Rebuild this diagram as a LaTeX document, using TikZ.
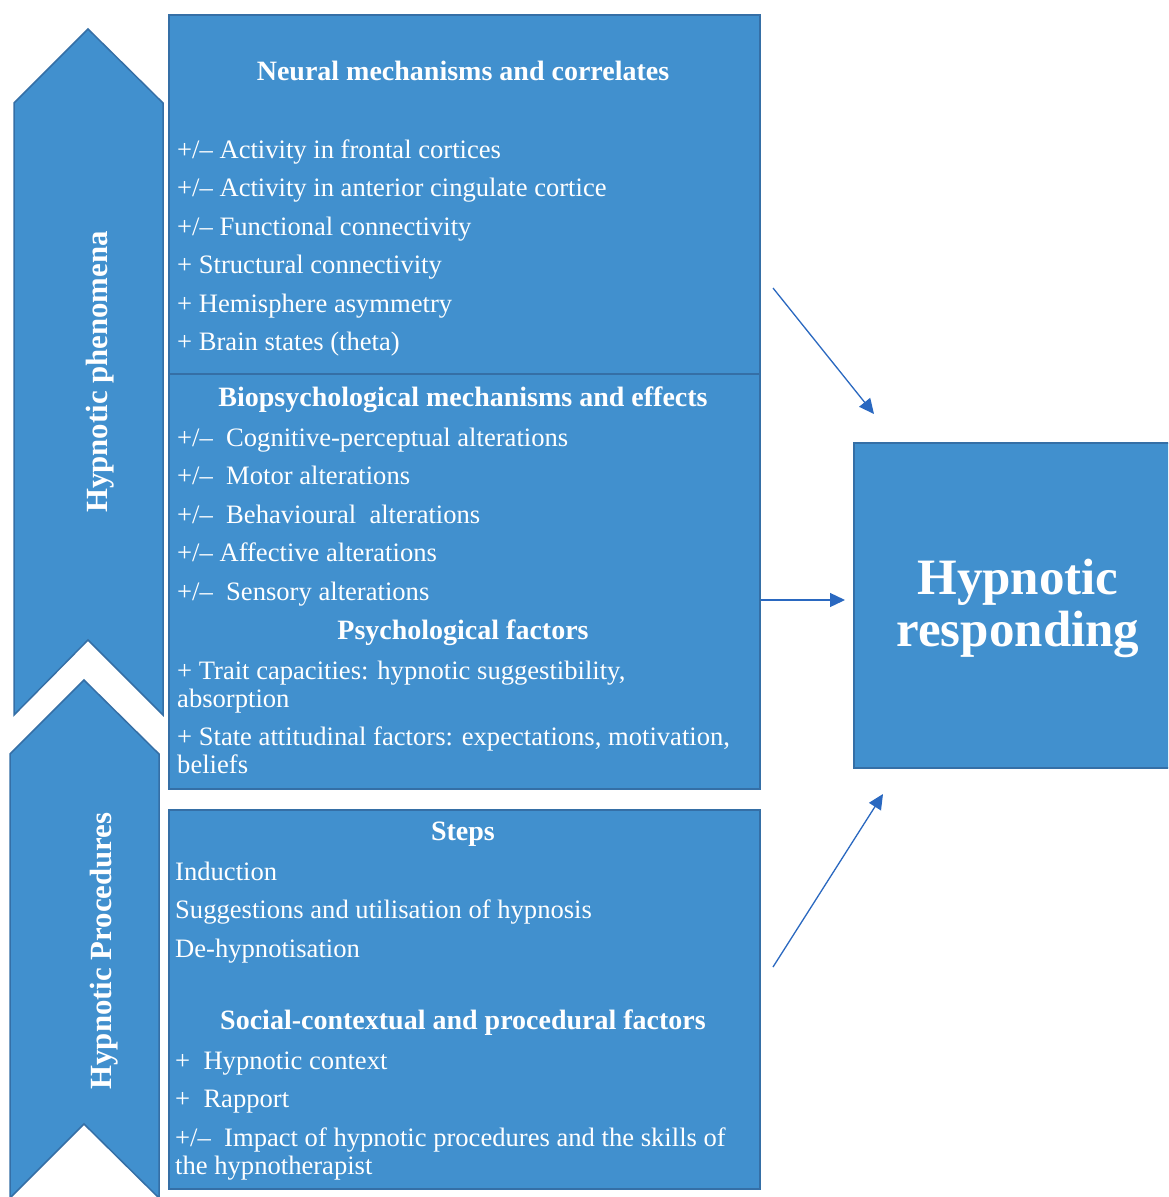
\documentclass[tikz,border=0pt]{standalone}
\usepackage{fontspec}
\setmainfont{Liberation Serif}
\usetikzlibrary{arrows.meta}
\definecolor{boxfill}{HTML}{4190CE}
\definecolor{boxline}{HTML}{356FA6}
\definecolor{arrowc}{HTML}{2A68C0}
\tikzset{
  panel/.style={draw=boxline, line width=1.5pt, fill=boxfill},
  txt/.style={anchor=base west, inner sep=0pt, text=white, font=\fontsize{26.6}{30}\selectfont},
  head/.style={anchor=base, inner sep=0pt, text=white, font=\fontsize{28}{32}\selectfont\bfseries},
  side/.style={inner sep=0pt, text=white, rotate=90, font=\fontsize{30.8}{34}\selectfont\bfseries},
  conn/.style={draw=arrowc, line width=1.3pt, -{Triangle[length=15pt,width=14pt]}}
}
\newcommand{\pmm}{+/--}
\begin{document}
\begin{tikzpicture}[x=1pt,y=-1pt]
\useasboundingbox (0,0) rectangle (1168,1197);
\clip (0,0) rectangle (1168,1197);
\fill[white] (0,0) rectangle (1168,1197);
% chevrons
\draw[panel] (14,103) -- (88,29) -- (163,103) -- (163,715) -- (88,640) -- (14,715) -- cycle;
\draw[panel] (10,754) -- (84,680) -- (159,754) -- (159,1198) -- (84,1124) -- (10,1198) -- cycle;
\node[side] (hp) at (100,372) {Hypnotic phenomena};
\node[side] (hproc) at (104,951) {Hypnotic Procedures};
% boxes
\node[panel, minimum width=591pt, minimum height=359pt, anchor=north west, inner sep=0pt] (box1) at (168,14) {};
\node[panel, minimum width=591pt, minimum height=415pt, anchor=north west, inner sep=0pt] (box2) at (168,373) {};
\node[panel, minimum width=591pt, minimum height=379pt, anchor=north west, inner sep=0pt] (box3) at (168,809) {};
\node[panel, minimum width=330pt, minimum height=325pt, anchor=north west, inner sep=0pt] (resp) at (853,442) {};
\node[inner sep=0pt, text=white, align=center, font=\fontsize{51}{52}\selectfont\bfseries] (resptxt) at (1018,608) {Hypnotic\\responding};
% box1 text
\node[head] (h1) at (463,80) {Neural mechanisms and correlates};
\node[txt] (l11) at (177,158) {\pmm\ Activity in frontal cortices};
\node[txt] (l12) at (177,196) {\pmm\ Activity in anterior cingulate cortice};
\node[txt] (l13) at (177,235) {\pmm\ Functional connectivity};
\node[txt] (l14) at (177,273) {+ Structural connectivity};
\node[txt] (l15) at (177,312) {+ Hemisphere asymmetry};
\node[txt] (l16) at (177,350) {+ Brain states (theta)};
% box2 text
\node[head] (h2) at (463,406) {Biopsychological mechanisms and effects};
\node[txt] (l21) at (177,446) {\pmm\ \ Cognitive-perceptual alterations};
\node[txt] (l22) at (177,484) {\pmm\ \ Motor alterations};
\node[txt] (l23) at (177,523) {\pmm\ \ Behavioural\ \ alterations};
\node[txt] (l24) at (177,561) {\pmm\ Affective alterations};
\node[txt] (l25) at (177,600) {\pmm\ \ Sensory alterations};
\node[head] (h3) at (463,639) {Psychological factors};
\node[txt] (l26) at (177,679) {+ Trait capacities: hypnotic suggestibility,};
\node[txt] (l27) at (177,707) {absorption};
\node[txt] (l28) at (177,745) {+ State attitudinal factors: expectations, motivation,};
\node[txt] (l29) at (177,773) {beliefs};
% box3 text
\node[head] (h4) at (463,840) {Steps};
\node[txt] (l31) at (175,880) {Induction};
\node[txt] (l32) at (175,918) {Suggestions and utilisation of hypnosis};
\node[txt] (l33) at (175,957) {De-hypnotisation};
\node[head] (h5) at (463,1029) {Social-contextual and procedural factors};
\node[txt] (l34) at (175,1069) {+\ \ Hypnotic context};
\node[txt] (l35) at (175,1107) {+\ \ Rapport};
\node[txt] (l36) at (175,1146) {\pmm\ \ Impact of hypnotic procedures and the skills of};
\node[txt] (l37) at (175,1174) {the hypnotherapist};
% arrows
\coordinate (a1s) at (773,288);
\coordinate (a1e) at (874,414);
\coordinate (a2e) at (845,600);
\coordinate (a3s) at (773,967);
\coordinate (a3e) at (883,794);
\draw[conn] (a1s) -- (a1e);
\draw[conn] (box2.east |- a2e) -- (a2e);
\draw[conn] (a3s) -- (a3e);
\end{tikzpicture}
\end{document}
